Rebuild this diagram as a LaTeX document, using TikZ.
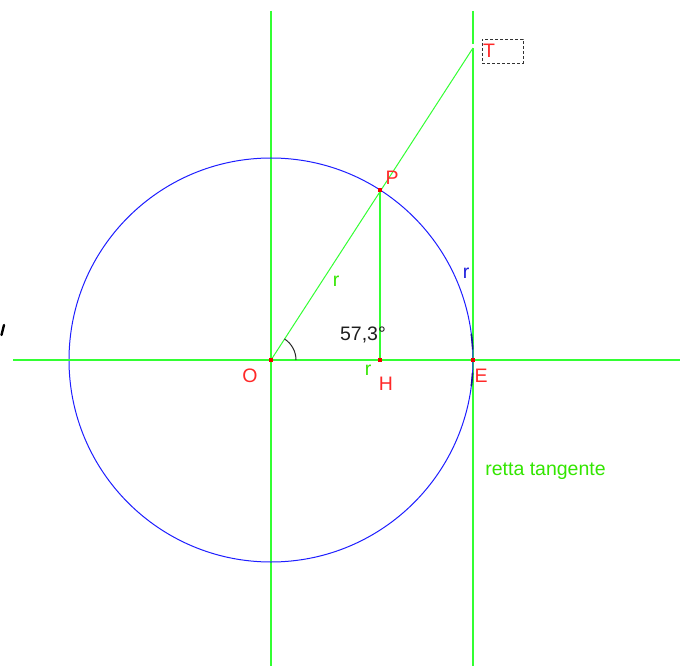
\documentclass[tikz,border=0pt]{standalone}
\usepackage{fontspec}
\setmainfont{Liberation Sans}
\begin{document}
\begin{tikzpicture}[x=1pt,y=-1pt,
  gline/.style={draw={rgb,255:red,51;green,255;blue,51},line width=1.8pt},
  dline/.style={draw={rgb,255:red,51;green,255;blue,51},line width=1pt},
  bcirc/.style={draw={rgb,255:red,30;green,30;blue,255},line width=1pt},
  lbl/.style={inner sep=0pt,font=\fontsize{19.5}{19.5}\selectfont},
  redl/.style={lbl,text={rgb,255:red,255;green,40;blue,40}},
  greenl/.style={lbl,text={rgb,255:red,51;green,230;blue,0}},
  bluel/.style={lbl,text={rgb,255:red,30;green,30;blue,220}},
  dot/.style={fill={rgb,255:red,240;green,0;blue,0},minimum size=4pt,inner sep=0pt,draw=none}]
\useasboundingbox (0,0) rectangle (680,666);
\fill[white] (0,0) rectangle (680,666);
% points
\coordinate (O) at (271,360);
\coordinate (P) at (380,190);
\coordinate (H) at (380,360);
\coordinate (E) at (473,360);
\coordinate (T) at (473,48);
\coordinate (Hl) at (13,360);
\coordinate (Hr) at (680,360);
\coordinate (V1t) at (271,11);
\coordinate (V1b) at (271,666);
\coordinate (V2t) at (473,11);
\coordinate (V2b) at (473,666);
\coordinate (Tg1) at (473,44);
\coordinate (Tg2) at (473,48);
\coordinate (A0) at (296,360);
\coordinate (M1) at (4,325);
\coordinate (M2) at (1.5,335);
% lines
\draw[gline] (V1t) -- (V1b);
\draw[gline] (V2t) -- (V2b);
\draw[white,line width=2.4pt] (Tg1) -- (Tg2);
\draw[dline] (O) -- (T);
\draw[gline,line width=1.4pt] (P) -- (H);
% circle
\draw[bcirc] (O) circle[radius=202pt];
\draw[draw={rgb,255:red,20;green,20;blue,150},line width=1.6pt] (O) ++(3:202pt) arc[start angle=3,end angle=7.4,radius=202pt];
\draw[draw={rgb,255:red,20;green,20;blue,150},line width=1.6pt] (O) ++(-3.6:202pt) arc[start angle=-3.6,end angle=-7.4,radius=202pt];
\draw[gline] (Hl) -- (Hr);
% angle
\draw[draw={rgb,255:red,40;green,40;blue,40},line width=1pt] (A0) arc[start angle=0,end angle=57.3,radius=25pt];
% left mark
\draw[black,line width=2.4pt,line cap=round] (M1) -- (M2);
% dots
\node[dot] (dO) at (O) {};
\node[dot] (dP) at (P) {};
\node[dot] (dH) at (H) {};
\node[dot] (dE) at (E) {};
% labels
\node[redl] (lO) at (250,376) {O};
\node[redl] (lP) at (392,178) {P};
\node[redl] (lH) at (386,384) {H};
\node[redl] (lE) at (481,376) {E};
\node[redl] (lT) at (489,51) {T};
\node[draw={rgb,255:red,50;green,50;blue,50},dash pattern=on 3pt off 2pt,line width=0.9pt,minimum width=41pt,minimum height=24pt,inner sep=0pt] (Tbox) at (502.5,51) {};
\node[greenl] (r1) at (336,281) {r};
\node[greenl] (r2) at (368,370) {r};
\node[bluel] (r3) at (466,273) {r};
\node[lbl,text={rgb,255:red,30;green,30;blue,30}] (ang) at (363,335) {57,3°};
\node[greenl] (rt) at (545.5,471) {retta tangente};
\end{tikzpicture}
\end{document}
